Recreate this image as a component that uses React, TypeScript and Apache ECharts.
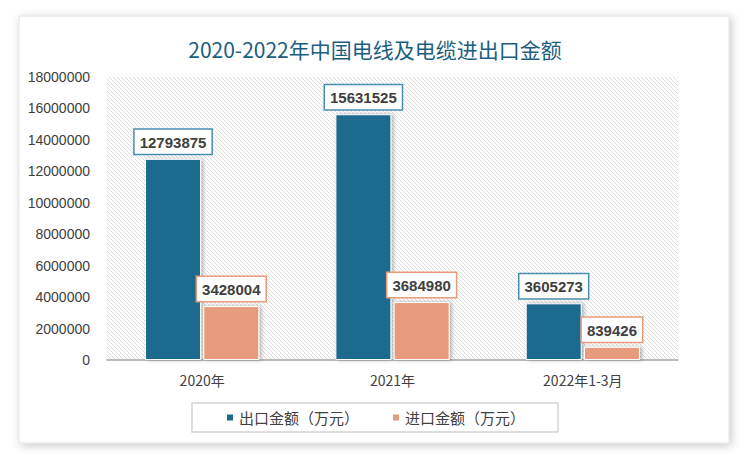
import React, { useEffect, useRef } from "react";
import * as echarts from "echarts";

const categories = ["2020年", "2021年", "2022年1-3月"];
const exportValues = [12793875, 15631525, 3605273];
const importValues = [3428004, 3684980, 839426];
const seriesNames = ["出口金额（万元）", "进口金额（万元）"];
const titleText = "2020-2022年中国电线及电缆进出口金额";

const BLUE = "#1d6a8d";
const ORANGE = "#e89b7b";

function makeHatch(): string {
  const c = document.createElement("canvas");
  c.width = 4;
  c.height = 4;
  const ctx = c.getContext("2d");
  if (ctx) {
    ctx.fillStyle = "#ffffff";
    ctx.fillRect(0, 0, 4, 4);
    ctx.fillStyle = "#dedede";
    for (let i = 0; i < 4; i++) ctx.fillRect(i, i, 1, 1);
  }
  return c.toDataURL();
}

export default function App() {
  const ref = useRef<HTMLDivElement>(null);
  useEffect(() => {
    document.body.style.margin = "0";
    if (!ref.current) return;
    const chart = echarts.init(ref.current, null, { renderer: "svg" });
    const hatch = makeHatch();
    const labelCfg = (color: string) => ({
      show: true,
      position: "top" as const,
      distance: 5,
      backgroundColor: "#ffffff",
      borderColor: color,
      borderWidth: 1.5,
      padding: [5, 5, 4, 5],
      color: "#404040",
      fontWeight: "bold" as const,
      fontSize: 15,
      fontFamily: "Liberation Sans, Arial, sans-serif",
    });
    chart.setOption({
      animation: false,
      backgroundColor: "#ffffff",
      graphic: [
        {
          type: "rect",
          z: -10,
          silent: true,
          shape: { x: 19, y: 16, width: 710, height: 427 },
          style: {
            fill: "#ffffff",
            stroke: "#e2e2e2",
            lineWidth: 1,
            shadowBlur: 10,
            shadowOffsetX: 2,
            shadowOffsetY: 2,
            shadowColor: "rgba(0,0,0,0.22)",
          },
        },
      ],
      title: {
        text: titleText,
        left: "center",
        top: 33,
        textStyle: {
          color: "#1b5e7f",
          fontSize: 21,
          fontWeight: "normal",
          fontFamily: "Noto Sans CJK SC, sans-serif",
        },
      },
      grid: {
        left: 107,
        right: 72,
        top: 77,
        bottom: 101,
        show: true,
        borderWidth: 0,
        backgroundColor: { image: hatch, repeat: "repeat" },
      },
      legend: {
        data: seriesNames,
        left: "center",
        top: 403,
        itemWidth: 8,
        itemHeight: 8,
        itemGap: 32,
        icon: "rect",
        borderColor: "#d4d4d4",
        borderWidth: 1.5,
        padding: [7, 33],
        textStyle: {
          color: "#404040",
          fontSize: 15,
          fontFamily: "Noto Sans CJK SC, sans-serif",
        },
      },
      xAxis: {
        type: "category",
        data: categories,
        axisLine: { lineStyle: { color: "#a6a6a6", width: 1.5 } },
        axisTick: { show: false },
        axisLabel: {
          color: "#404040",
          fontSize: 14,
          margin: 13,
          fontFamily: "Noto Sans CJK SC, sans-serif",
        },
      },
      yAxis: {
        type: "value",
        min: 0,
        max: 18000000,
        interval: 2000000,
        axisLine: { show: false },
        axisTick: { show: false },
        splitLine: { show: false },
        axisLabel: {
          color: "#404040",
          fontSize: 14,
          margin: 17,
          fontFamily: "Liberation Sans, Arial, sans-serif",
          formatter: (v: number) => String(v),
        },
      },
      series: [
        {
          name: seriesNames[0],
          type: "bar",
          data: exportValues,
          barWidth: 56,
          barGap: "4%",
          itemStyle: {
            color: BLUE,
            borderColor: "#ffffff",
            borderWidth: 1,
            shadowColor: "rgba(0,0,0,0.3)",
            shadowBlur: 4,
            shadowOffsetX: 2,
          },
          label: labelCfg("#4a8db0"),
        },
        {
          name: seriesNames[1],
          type: "bar",
          data: importValues,
          barWidth: 56,
          itemStyle: {
            color: ORANGE,
            borderColor: "#ffffff",
            borderWidth: 1,
            shadowColor: "rgba(0,0,0,0.3)",
            shadowBlur: 4,
            shadowOffsetX: 2,
          },
          label: labelCfg(ORANGE),
        },
      ],
    });
    return () => chart.dispose();
  }, []);
  return <div ref={ref} style={{ width: 750, height: 461 }} />;
}
